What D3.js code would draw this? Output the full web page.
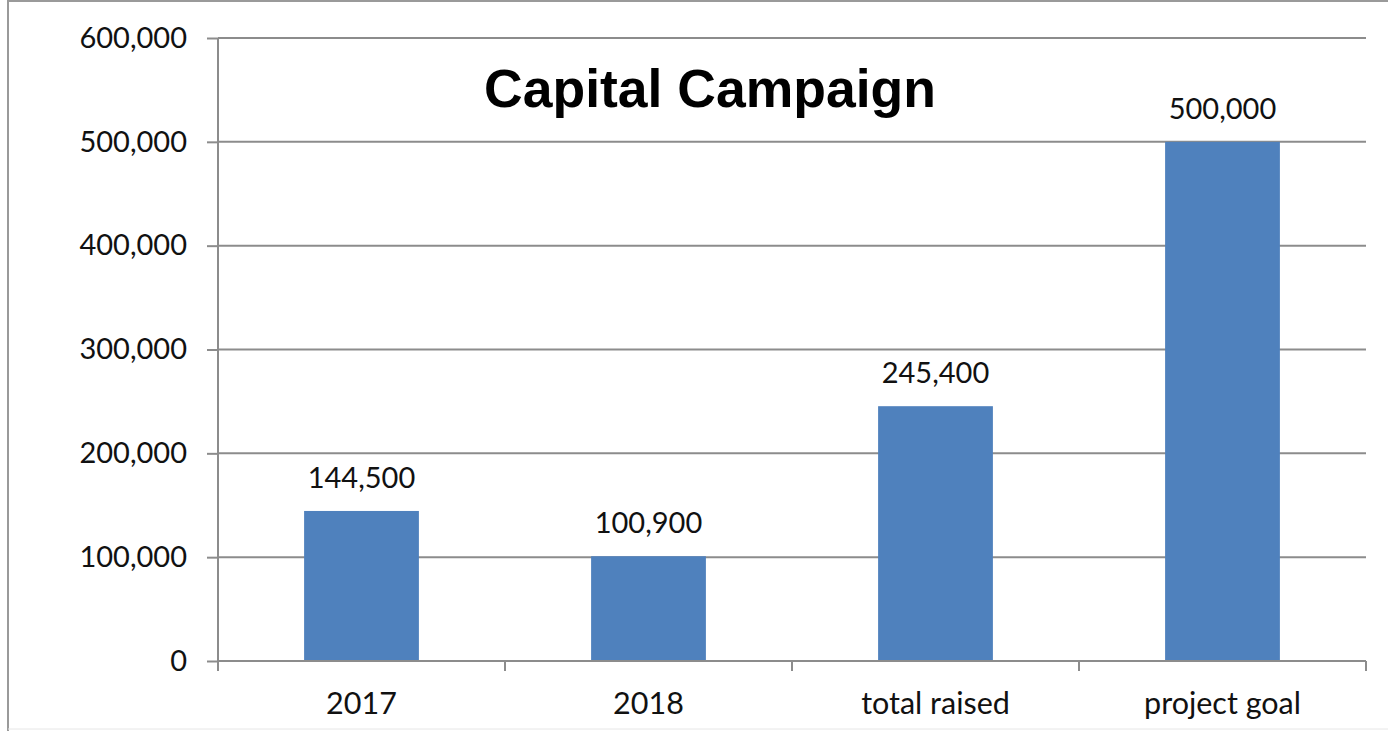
<!DOCTYPE html>
<html>
<head>
<meta charset="utf-8">
<script src="https://cdn.jsdelivr.net/npm/d3@7"></script>
<style>
  html, body { margin: 0; padding: 0; background: #fff; }
  svg { display: block; }
</style>
</head>
<body>
<div id="chart"></div>
<script>
const categories = ["2017", "2018", "total raised", "project goal"];
const amounts = [144500, 100900, 245400, 500000];
const yTicks = [0, 100000, 200000, 300000, 400000, 500000, 600000];

const W = 1388, H = 731;
const plot = { left: 218, right: 1366, top: 38, bottom: 661 };
const labelFont = "Lato, 'Open Sans', sans-serif";
const grey = "#8c8c8c";

const svg = d3.select("#chart")
    .append("svg")
    .attr("width", W)
    .attr("height", H);

// outer frame (top + left, faint bottom)
svg.append("line").attr("x1", 8).attr("x2", W).attr("y1", 1).attr("y2", 1)
    .attr("stroke", "#9a9a9a").attr("stroke-width", 2);
svg.append("line").attr("x1", 8).attr("x2", 8).attr("y1", 0).attr("y2", H)
    .attr("stroke", "#9a9a9a").attr("stroke-width", 2);
svg.append("line").attr("x1", 8).attr("x2", W).attr("y1", 729).attr("y2", 729)
    .attr("stroke", "#e6e6e6").attr("stroke-width", 1);

const x = d3.scaleBand()
    .domain(categories)
    .range([plot.left, plot.right])
    .paddingInner(0.6)
    .paddingOuter(0.3);

const y = d3.scaleLinear()
    .domain([0, 600000])
    .range([plot.bottom, plot.top]);

const fmt = d3.format(",");

// gridlines
svg.append("g")
    .selectAll("line")
    .data(yTicks.filter(d => d > 0))
    .enter()
    .append("line")
    .attr("x1", plot.left)
    .attr("x2", plot.right)
    .attr("y1", d => y(d))
    .attr("y2", d => y(d))
    .attr("stroke", grey)
    .attr("stroke-width", 2);

// bars
svg.append("g")
    .selectAll("rect")
    .data(amounts)
    .enter()
    .append("rect")
    .attr("x", (d, i) => x(categories[i]))
    .attr("y", d => y(d))
    .attr("width", x.bandwidth())
    .attr("height", d => y(0) - y(d))
    .attr("fill", "#4f81bd");

// value labels
svg.append("g")
    .selectAll("text")
    .data(amounts)
    .enter()
    .append("text")
    .attr("x", (d, i) => x(categories[i]) + x.bandwidth() / 2)
    .attr("y", d => y(d) - 23)
    .attr("text-anchor", "middle")
    .style("font-family", labelFont)
    .style("font-size", "29px")
    .attr("fill", "#111")
    .text(d => fmt(d));

// y axis
const yAxis = svg.append("g")
    .attr("transform", `translate(${plot.left},0)`)
    .call(d3.axisLeft(y).tickValues(yTicks).tickFormat(fmt).tickSize(11).tickPadding(20));
yAxis.selectAll("line, path").attr("stroke", grey).attr("stroke-width", 2);
yAxis.select(".domain").attr("d", `M0,${plot.top}V${plot.bottom}`);
yAxis.selectAll("text")
    .style("font-family", labelFont)
    .style("font-size", "29px")
    .attr("fill", "#111");

// x axis: line with ticks at category boundaries
const xAxis = svg.append("g");
xAxis.append("line")
    .attr("x1", plot.left).attr("x2", plot.right)
    .attr("y1", plot.bottom).attr("y2", plot.bottom)
    .attr("stroke", grey).attr("stroke-width", 2);
const bounds = categories.map(c => x(c) - x.step() * x.paddingInner() / 2)
    .concat([plot.right]);
xAxis.selectAll("line.tick")
    .data(bounds)
    .enter()
    .append("line")
    .attr("class", "tick")
    .attr("x1", d => d).attr("x2", d => d)
    .attr("y1", plot.bottom).attr("y2", plot.bottom + 10)
    .attr("stroke", grey).attr("stroke-width", 2);
xAxis.selectAll("text")
    .data(categories)
    .enter()
    .append("text")
    .attr("x", d => x(d) + x.bandwidth() / 2)
    .attr("y", 714)
    .attr("text-anchor", "middle")
    .style("font-family", labelFont)
    .style("font-size", "30.5px")
    .attr("fill", "#111")
    .text(d => d);

// title
svg.append("text")
    .attr("x", 710)
    .attr("y", 107)
    .attr("text-anchor", "middle")
    .style("font-family", "'Liberation Sans', Arial, sans-serif")
    .style("font-weight", "bold")
    .style("font-size", "53.5px")
    .attr("fill", "#000")
    .text("Capital Campaign");
</script>
</body>
</html>
